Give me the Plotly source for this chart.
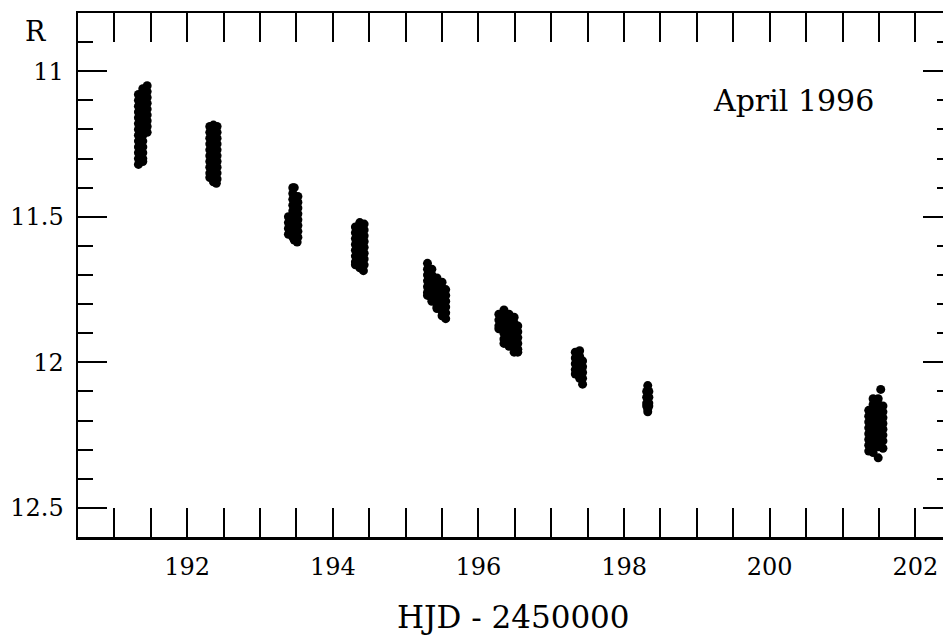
import plotly.graph_objects as go

# Light curve, R magnitude vs HJD - 2450000 (April 1996), one list per night
night1 = [(191.33, 11.08), (191.33, 11.10), (191.33, 11.12), (191.33, 11.14), (191.33, 11.16),
          (191.33, 11.18), (191.33, 11.20), (191.33, 11.22), (191.33, 11.24), (191.33, 11.26),
          (191.33, 11.28), (191.33, 11.30), (191.33, 11.32),
          (191.39, 11.06), (191.39, 11.08), (191.39, 11.10), (191.39, 11.12), (191.39, 11.14),
          (191.39, 11.16), (191.39, 11.18), (191.39, 11.20), (191.39, 11.22), (191.39, 11.24),
          (191.39, 11.26), (191.39, 11.28), (191.39, 11.30), (191.39, 11.31),
          (191.45, 11.05), (191.45, 11.07), (191.45, 11.09), (191.45, 11.11), (191.45, 11.13),
          (191.45, 11.15), (191.45, 11.17), (191.45, 11.19), (191.45, 11.21)]
night2 = [(192.31, 11.19), (192.31, 11.21), (192.31, 11.23), (192.31, 11.25), (192.31, 11.27),
          (192.31, 11.29), (192.31, 11.31), (192.31, 11.33), (192.31, 11.35), (192.31, 11.365),
          (192.36, 11.185), (192.36, 11.205), (192.36, 11.225), (192.36, 11.245), (192.36, 11.265),
          (192.36, 11.285), (192.36, 11.305), (192.36, 11.325), (192.36, 11.345), (192.36, 11.365),
          (192.36, 11.38),
          (192.41, 11.19), (192.41, 11.21), (192.41, 11.23), (192.41, 11.25), (192.41, 11.27),
          (192.41, 11.29), (192.41, 11.31), (192.41, 11.33), (192.41, 11.35), (192.41, 11.37),
          (192.40, 11.385)]
night3 = [(193.39, 11.50), (193.39, 11.52), (193.39, 11.54), (193.39, 11.56),
          (193.45, 11.40), (193.45, 11.42), (193.45, 11.44), (193.45, 11.46), (193.45, 11.48),
          (193.45, 11.50), (193.45, 11.52), (193.45, 11.54), (193.45, 11.56), (193.45, 11.57),
          (193.47, 11.40), (193.47, 11.43), (193.47, 11.47), (193.47, 11.51), (193.47, 11.55),
          (193.47, 11.58),
          (193.52, 11.43), (193.52, 11.45), (193.52, 11.47), (193.52, 11.49), (193.52, 11.51),
          (193.52, 11.53), (193.52, 11.55), (193.52, 11.57), (193.51, 11.587)]
night4 = [(194.31, 11.535), (194.31, 11.555), (194.31, 11.575), (194.31, 11.595), (194.31, 11.615),
          (194.31, 11.635), (194.31, 11.655), (194.31, 11.665),
          (194.37, 11.52), (194.37, 11.54), (194.37, 11.56), (194.37, 11.58), (194.37, 11.60),
          (194.37, 11.62), (194.37, 11.64), (194.37, 11.66), (194.37, 11.675),
          (194.43, 11.525), (194.43, 11.545), (194.43, 11.565), (194.43, 11.585), (194.43, 11.605),
          (194.43, 11.625), (194.43, 11.645), (194.43, 11.665), (194.42, 11.685)]
night5 = [(195.30, 11.66), (195.30, 11.68), (195.30, 11.70), (195.30, 11.72), (195.30, 11.74),
          (195.30, 11.76), (195.30, 11.77),
          (195.36, 11.68), (195.36, 11.70), (195.36, 11.72), (195.36, 11.74), (195.36, 11.76),
          (195.36, 11.78), (195.36, 11.79),
          (195.43, 11.71), (195.43, 11.73), (195.43, 11.75), (195.43, 11.77), (195.43, 11.79),
          (195.43, 11.81), (195.43, 11.815),
          (195.50, 11.725), (195.50, 11.745), (195.50, 11.765), (195.50, 11.785), (195.50, 11.805),
          (195.50, 11.825), (195.50, 11.84),
          (195.55, 11.75), (195.55, 11.77), (195.55, 11.79), (195.55, 11.81), (195.55, 11.83),
          (195.55, 11.85)]
night6 = [(196.28, 11.835), (196.28, 11.855), (196.28, 11.875), (196.28, 11.885),
          (196.35, 11.82), (196.35, 11.84), (196.35, 11.86), (196.35, 11.88), (196.35, 11.90),
          (196.35, 11.92), (196.35, 11.935),
          (196.42, 11.835), (196.42, 11.855), (196.42, 11.875), (196.42, 11.895), (196.42, 11.915),
          (196.42, 11.935), (196.42, 11.945),
          (196.49, 11.845), (196.49, 11.865), (196.49, 11.885), (196.49, 11.905), (196.49, 11.925),
          (196.49, 11.945), (196.49, 11.965),
          (196.54, 11.875), (196.54, 11.895), (196.54, 11.915), (196.54, 11.935), (196.54, 11.955),
          (196.54, 11.965)]
night7 = [(197.33, 11.965), (197.33, 11.985), (197.33, 12.005), (197.33, 12.025), (197.33, 12.04),
          (197.39, 11.96), (197.39, 11.98), (197.39, 12.00), (197.39, 12.02), (197.39, 12.04),
          (197.39, 12.055),
          (197.43, 11.995), (197.43, 12.015), (197.43, 12.035), (197.43, 12.055), (197.43, 12.075)]
night8 = [(198.31, 12.10), (198.31, 12.12), (198.31, 12.14), (198.31, 12.15),
          (198.325, 12.08), (198.325, 12.10), (198.325, 12.12), (198.325, 12.14), (198.325, 12.16),
          (198.325, 12.17),
          (198.34, 12.10), (198.34, 12.12), (198.34, 12.14), (198.34, 12.15)]
night9 = [(201.36, 12.165), (201.36, 12.185), (201.36, 12.205), (201.36, 12.225), (201.36, 12.245),
          (201.36, 12.265), (201.36, 12.285), (201.36, 12.305),
          (201.42, 12.125), (201.42, 12.145), (201.42, 12.165), (201.42, 12.185), (201.42, 12.205),
          (201.42, 12.225), (201.42, 12.245), (201.42, 12.265), (201.42, 12.285), (201.42, 12.31),
          (201.49, 12.125), (201.49, 12.145), (201.49, 12.165), (201.49, 12.185), (201.49, 12.205),
          (201.49, 12.225), (201.49, 12.245), (201.49, 12.265), (201.49, 12.29),
          (201.555, 12.15), (201.555, 12.17), (201.555, 12.19), (201.555, 12.21), (201.555, 12.23),
          (201.555, 12.25), (201.555, 12.27), (201.555, 12.295),
          (201.525, 12.093), (201.49, 12.328)]

nights = [night1, night2, night3, night4, night5, night6, night7, night8, night9]

x_tickvals = [192, 194, 196, 198, 200, 202]
x_ticktext = ["192", "194", "196", "198", "200", "202"]
y_tickvals = [11, 11.5, 12, 12.5]
y_ticktext = ["11", "11.5", "12", "12.5"]

FONT = "DejaVu Serif"

fig = go.Figure()
for i, night in enumerate(nights):
    xs = [p[0] for p in night]
    ys = [p[1] for p in night]
    fig.add_trace(go.Scatter(
        x=xs, y=ys, mode="markers",
        marker=dict(color="black", size=9, line=dict(width=0)),
        yaxis="y2" if i == len(nights) - 1 else "y",
        showlegend=False, hoverinfo="skip"))

common_y = dict(range=[12.6, 10.8], showgrid=False, zeroline=False)

fig.update_layout(
    width=943, height=641,
    margin=dict(l=78, r=0, t=13, b=104),
    paper_bgcolor="white", plot_bgcolor="white",
    font=dict(family=FONT, color="black", size=24),
    xaxis=dict(
        range=[190.5, 202.38], showgrid=False, zeroline=False,
        tickvals=x_tickvals, ticktext=x_ticktext,
        ticks="inside", ticklen=29, tickwidth=2, tickcolor="black",
        showline=True, linewidth=2.5, linecolor="black", mirror="allticks",
        tickfont=dict(family=FONT, size=24, color="black"),
        ticklabelstandoff=7,
        minor=dict(dtick=0.5, tick0=190.5, ticks="inside", ticklen=15, tickwidth=2,
                   tickcolor="black", showgrid=False),
    ),
    yaxis=dict(
        **common_y,
        tickvals=y_tickvals, ticktext=y_ticktext,
        ticks="inside", ticklen=29, tickwidth=2, tickcolor="black",
        showline=True, linewidth=2.5, linecolor="black", mirror=False,
        tickfont=dict(family=FONT, size=24, color="black"),
        ticklabelstandoff=7,
        minor=dict(dtick=0.1, tick0=10.8, ticks="inside", ticklen=15, tickwidth=2,
                   tickcolor="black", showgrid=False),
    ),
    yaxis2=dict(
        **common_y, overlaying="y", side="right", anchor="x",
        tickvals=y_tickvals, showticklabels=False,
        ticks="inside", ticklen=20, tickwidth=2, tickcolor="black",
        showline=False,
        minor=dict(dtick=0.1, tick0=10.8, ticks="inside", ticklen=6, tickwidth=2,
                   tickcolor="black", showgrid=False),
    ),
    annotations=[
        dict(text="R", xref="paper", yref="paper", x=-0.0486, y=0.9656,
             xanchor="center", yanchor="middle", showarrow=False,
             font=dict(family=FONT, size=27, color="black")),
        dict(text="HJD - 2450000", xref="paper", yref="paper", x=0.504, y=-0.1536,
             xanchor="center", yanchor="middle", showarrow=False,
             font=dict(family=FONT, size=31, color="black")),
        dict(text="April 1996", xref="x", yref="y", x=200.33, y=11.10,
             xanchor="center", yanchor="middle", showarrow=False,
             font=dict(family=FONT, size=30, color="black")),
    ],
)

fig.write_html(
    "out.html",
    config={"displayModeBar": False, "staticPlot": True},
    post_script=("document.body.style.margin='0px';"
                 "document.body.style.overflow='hidden';"
                 "document.documentElement.style.overflow='hidden';"),
)
